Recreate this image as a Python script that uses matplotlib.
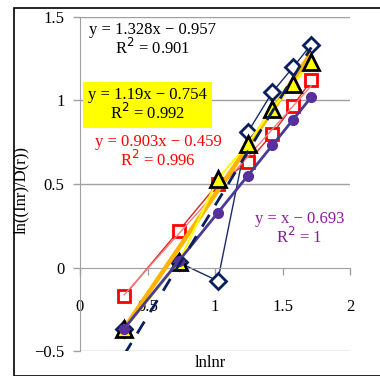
import numpy as np
import matplotlib
matplotlib.use('Agg')
import matplotlib.pyplot as plt
from matplotlib.patches import Rectangle

plt.rcParams['font.family'] = ['Liberation Serif', 'DejaVu Serif']

# data (x = lnln r, r = 4..256)
x = [0.327, 0.732, 1.020, 1.243, 1.425, 1.579, 1.713]
y_diamond = [-0.37, 0.03, -0.08, 0.81, 1.05, 1.20, 1.335]
y_triangle = [-0.37, 0.03, 0.53, 0.74, 0.95, 1.10, 1.23]
y_square = [-0.17, 0.22, 0.50, 0.63, 0.80, 0.97, 1.12]
y_circle = [-0.366, 0.039, 0.327, 0.55, 0.732, 0.886, 1.02]

fits = {
    'diamond': (1.328, -0.957),
    'triangle': (1.19, -0.754),
    'square': (0.903, -0.459),
    'circle': (1.0, -0.693),
}

xticks = [0, 0.5, 1, 1.5, 2]
yticks = [-0.5, 0, 0.5, 1, 1.5]

fig = plt.figure(figsize=(3.8, 3.76), dpi=100)
ax = fig.add_axes([80/380, 1-351/376, 270/380, 334/376])
fig.patches.append(Rectangle((14/380, 0), 1.2, 1-8/376, transform=fig.transFigure,
                             fill=False, edgecolor='black', lw=1.2))

ax.set_xlim(0, 2)
ax.set_ylim(-0.5, 1.5)
for yv in [-0.5, 0.5, 1, 1.5]:
    ax.axhline(yv, color='#a0a0a0', lw=1, zorder=0)

xs = np.array([x[0], x[-1]])

# series
ax.plot(x, y_diamond, color='#1a2a6a', lw=1, marker='D', ms=8, mfc='white',
        mec='#0b1f5c', mew=2, zorder=2)
ax.plot(x, y_square, color='#e02020', lw=1, marker='s', ms=8, mfc='white',
        mec='#ff0000', mew=2, zorder=3)
ax.plot(x, y_triangle, color='#ffff00', lw=1.5, marker='^', ms=12, mfc='#ffff00',
        mec='black', mew=2, zorder=4)
ax.plot(x, y_circle, color='#3c2c8c', lw=1, marker='o', ms=7, mfc='#5a2d9a',
        mec='#5a2d9a', zorder=5)

# trendlines
a, b = fits['square']
ax.plot(xs, a*xs + b, color='#f08080', lw=1, zorder=3.5)
a, b = fits['triangle']
ax.plot(xs, a*xs + b, color='#ffb400', lw=3.2, zorder=3.6, solid_capstyle='butt')
a, b = fits['circle']
ax.plot(xs, a*xs + b, color='#4a3a9a', lw=2, zorder=5)
a, b = fits['diamond']
ax.plot(xs, a*xs + b, color='#0b1f5c', lw=2, ls=(0, (5, 4)), zorder=6)

# axes styling
for s in ['top', 'right']:
    ax.spines[s].set_visible(False)
ax.spines['bottom'].set_position(('data', 0))
ax.spines['bottom'].set_color('#a0a0a0')
ax.spines['left'].set_color('#a0a0a0')
ax.set_xticks(xticks)
ax.set_xticklabels(['0', '0.5', '1', '1.5', '2'])
ax.set_yticks(yticks)
ax.set_yticklabels(['\u22120.5', '0', '0.5', '1', '1.5'])
ax.tick_params(axis='both', colors='#a0a0a0', labelcolor='black', labelsize=12,
               length=5, width=1)
ax.tick_params(axis='x', pad=18)
ax.tick_params(axis='y', pad=6)

fig.text(21/380, 1-190/376, 'ln((Inr)/D(r))', rotation=90, ha='center', va='center',
         fontsize=12)
fig.text(210/380, 1-363/376, 'lnlnr', ha='center', va='center', fontsize=12)

# equations
ax.text(0.535, 1.36, 'y = 1.328x \u2212 0.957\nR$^2$ = 0.901', ha='center', va='center',
        fontsize=12, color='black', linespacing=1.0)
ax.text(0.50, 0.975, 'y = 1.19x \u2212 0.754\nR$^2$ = 0.992', ha='center', va='center',
        fontsize=12, color='black', linespacing=1.0,
        bbox=dict(boxstyle='square,pad=0.3', fc='#ffff00', ec='none'))
ax.text(0.58, 0.69, 'y = 0.903x \u2212 0.459\nR$^2$ = 0.996', ha='center', va='center',
        fontsize=12, color='#ff0000', linespacing=1.0)
ax.text(1.625, 0.23, 'y = x \u2212 0.693\nR$^2$ = 1', ha='center', va='center',
        fontsize=12, color='#8b1a9b', linespacing=1.0)

fig.savefig('out.png', dpi=100)
